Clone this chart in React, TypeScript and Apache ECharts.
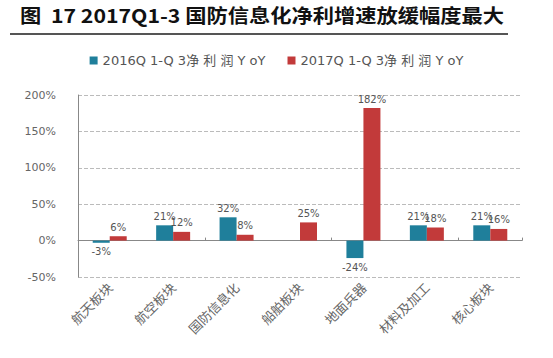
import React, { useEffect, useRef } from "react";
import * as echarts from "echarts";

const categories = ["航天板块", "航空板块", "国防信息化", "船舶板块", "地面兵器", "材料及加工", "核心板块"];
const series2016 = [-3, 21, 32, null, -24, 21, 21];
const series2017 = [6, 12, 8, 25, 182, 18, 16];
const seriesNames = ["2016Q 1-Q 3净 利 润 Y oY", "2017Q 1-Q 3净 利 润 Y oY"];
const titleText = "图  17 2017Q1-3 国防信息化净利增速放缓幅度最大";

const BLUE = "#1f7f9b";
const RED = "#c23a3a";

function toData(arr: (number | null)[]) {
  return arr.map((v) =>
    v === null
      ? null
      : {
          value: v,
          label: { position: v < 0 ? "bottom" : "top" },
        }
  );
}

export default function App() {
  const ref = useRef<HTMLDivElement>(null);
  useEffect(() => {
    if (!ref.current) return;
    const chart = echarts.init(ref.current, null, { renderer: "svg" });
    const font = "'Noto Sans CJK SC', 'Noto Sans', sans-serif";
    const wide = "'DejaVu Sans', 'Noto Sans CJK SC', sans-serif";
    chart.setOption({
      animation: false,
      backgroundColor: "#ffffff",
      textStyle: { fontFamily: font },
      graphic: [
        {
          type: "text",
          x: 20,
          y: 5,
          scaleX: 1.12,
          style: {
            text: titleText,
            font: `bold 19px ${font}`,
            fill: "#111",
          },
        },
        {
          type: "line",
          shape: { x1: 10, y1: 34, x2: 508, y2: 34 },
          style: { stroke: "#555", lineWidth: 2 },
        },
      ],
      legend: {
        top: 49,
        left: "center",
        itemWidth: 8,
        itemHeight: 8,
        itemGap: 22,
        icon: "rect",
        textStyle: { fontSize: 13, color: "#555", fontFamily: wide },
        data: seriesNames,
      },
      grid: { left: 78, right: 31, top: 95, bottom: 81 },
      xAxis: [
        {
          type: "category",
          data: categories,
          axisLine: { show: false, onZero: false },
          axisTick: { show: false },
          axisLabel: {
            rotate: 45,
            interval: 0,
            fontSize: 13,
            color: "#666",
            margin: 8,
            fontFamily: font,
          },
        },
        {
          type: "category",
          data: categories,
          position: "bottom",
          axisLine: { show: true, onZero: true, lineStyle: { color: "#888", width: 1 } },
          axisTick: { show: true, inside: true, length: 3, lineStyle: { color: "#888" } },
          axisLabel: { show: false },
        },
      ],
      yAxis: {
        type: "value",
        min: -50,
        max: 200,
        interval: 50,
        axisLine: { show: true, lineStyle: { color: "#888" } },
        axisTick: { show: false },
        axisLabel: {
          formatter: "{value}%",
          fontSize: 11,
          color: "#666",
          margin: 22,
          fontFamily: wide,
        },
        splitLine: { show: true, lineStyle: { color: "#bbb", type: "dashed" } },
      },
      series: [
        {
          name: seriesNames[0],
          type: "bar",
          xAxisIndex: 0,
          data: toData(series2016),
          barWidth: 17,
          barGap: "0%",
          itemStyle: { color: BLUE },
          label: { show: true, formatter: "{c}%", fontSize: 10, color: "#555", distance: 4, fontFamily: wide },
        },
        {
          name: seriesNames[1],
          type: "bar",
          xAxisIndex: 0,
          data: toData(series2017),
          barWidth: 17,
          barGap: "0%",
          itemStyle: { color: RED },
          label: { show: true, formatter: "{c}%", fontSize: 10, color: "#555", distance: 4, fontFamily: wide },
        },
      ],
    });
    return () => chart.dispose();
  }, []);
  return (
    <div
      ref={ref}
      style={{ position: "fixed", left: 0, top: 0, width: 553, height: 358 }}
    />
  );
}
